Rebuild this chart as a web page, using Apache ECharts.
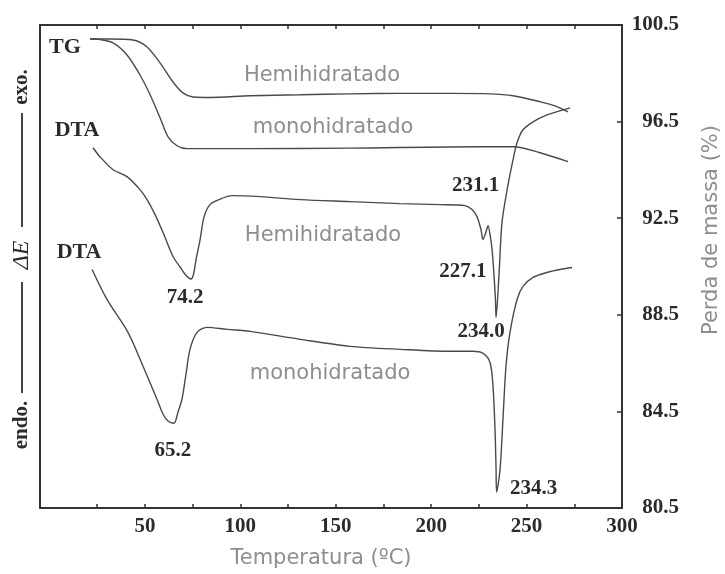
<!DOCTYPE html>
<html>
<head>
<meta charset="utf-8">
<script src="https://cdn.jsdelivr.net/npm/echarts@6/dist/echarts.min.js"></script>
<style>
  html, body { margin: 0; padding: 0; background: #fff; }
  #chart { width: 725px; height: 574px; }
</style>
</head>
<body>
<div id="chart"></div>
<script>
// ---- Data -------------------------------------------------------------
// Axis ticks: temperature (°C) and residual mass (%)
const tempTicks  = [25, 50, 75, 100, 125, 150, 175, 200, 225, 250, 275, 300];
const tempLabels = [50, 100, 150, 200, 250, 300];
const massTicks  = [80.5, 84.5, 88.5, 92.5, 96.5, 100.5];

// TG, hemihydrate: temperature (°C) / residual mass (%)
const tgHemiTemp = [21.2, 31.7, 43.7, 51.1, 57.9, 64.7, 69.9, 75.2, 84.1, 105.1, 131.3, 157.5, 183.7, 209.9, 230.8, 242.9, 257.1, 264.9, 271.7];
const tgHemiMass = [99.92, 99.92, 99.88, 99.59, 98.93, 98.14, 97.69, 97.52, 97.50, 97.57, 97.61, 97.65, 97.67, 97.67, 97.65, 97.57, 97.32, 97.15, 96.90];

// TG, monohydrate
const tgMonoTemp = [21.2, 26.4, 33.3, 40.6, 47.4, 52.7, 57.9, 62.1, 66.8, 72.0, 105.1, 157.5, 225.6, 242.9, 257.1, 271.7];
const tgMonoMass = [99.92, 99.90, 99.76, 99.26, 98.43, 97.61, 96.66, 95.87, 95.50, 95.38, 95.38, 95.40, 95.46, 95.46, 95.21, 94.84];

// DTA, hemihydrate: temperature (°C) / ΔE signal (arbitrary units)
const dtaHemiTemp = [22.8, 26.4, 33.3, 40.6, 47.4, 51.1, 55.3, 59.5, 64.7, 68.4, 71.0, 72.8, 74.2, 75.5, 76.8, 78.9, 81.0, 84.1, 88.8, 95.6, 110.3, 131.3, 157.5, 183.7, 204.6, 217.7, 221.4, 224.0, 226.1, 227.1, 228.8, 229.8, 231.1, 231.9, 232.9, 233.7, 234.0, 235.6, 237.1, 239.8, 242.9, 245.0, 248.1, 253.4, 260.7, 269.1, 272.8];
const dtaHemiSignal = [74.59, 72.73, 70.04, 68.60, 65.91, 63.84, 60.74, 57.02, 52.07, 49.90, 48.40, 47.70, 47.40, 48.50, 51.50, 55.58, 60.33, 62.81, 63.84, 64.67, 64.46, 63.84, 63.43, 63.02, 62.81, 62.60, 61.78, 60.33, 57.64, 55.58, 57.23, 58.47, 56.00, 53.51, 48.35, 43.00, 39.46, 48.76, 59.09, 65.91, 72.11, 75.62, 78.31, 79.96, 81.40, 82.44, 82.85];

// DTA, monohydrate
const dtaMonoTemp = [22.3, 30.1, 41.1, 49.0, 56.3, 59.5, 62.1, 65.2, 67.3, 69.4, 71.5, 73.6, 77.3, 82.5, 93.0, 105.1, 131.3, 157.5, 183.7, 209.9, 221.9, 227.2, 230.8, 232.4, 233.5, 234.0, 234.3, 236.1, 237.7, 239.2, 241.3, 245.0, 248.1, 253.4, 260.7, 267.5, 273.8];
const dtaMonoSignal = [49.38, 43.18, 36.36, 29.34, 22.52, 19.42, 18.00, 17.56, 19.83, 22.52, 27.69, 32.85, 36.36, 37.40, 36.98, 36.57, 34.92, 33.47, 32.85, 32.44, 32.44, 32.02, 30.17, 25.21, 15.70, 8.06, 3.31, 8.06, 19.01, 29.34, 36.36, 43.18, 45.87, 47.73, 48.76, 49.38, 49.79];

// Peak temperatures (°C) of the DTA events
const dtaHemiPeaks = [74.2, 227.1, 231.1, 234.0];
const dtaMonoPeaks = [65.2, 234.3];

// ---- Style ------------------------------------------------------------
const SERIF = '"Liberation Serif", "DejaVu Serif", serif';
const SANS  = '"DejaVu Sans", Verdana, sans-serif';
const INK   = '#2b2b2b';
const GREY  = '#8e8e8e';
const LINE  = '#4a4a4a';

// where each peak temperature sits relative to its peak (px)
const peakOffsets = {
  '74.2': [-6, 19], '227.1': [-20, 32], '231.1': [-15, -52], '234.0': [-15, 14],
  '65.2': [-1, 27], '234.3': [37, -3]
};

function pairs(xs, ys) { return xs.map((x, i) => [x, ys[i]]); }
function valueAt(xs, ys, t) {
  for (let i = 1; i < xs.length; i++) {
    if (t <= xs[i]) {
      const f = (t - xs[i - 1]) / (xs[i] - xs[i - 1]);
      return ys[i - 1] + f * (ys[i] - ys[i - 1]);
    }
  }
  return ys[ys.length - 1];
}
function note(coord, text, offset, style) {
  return {
    coord: coord, symbol: 'circle', symbolSize: 1,
    itemStyle: { color: 'rgba(0,0,0,0)' },
    label: Object.assign({ show: true, position: 'inside', formatter: text, offset: offset }, style)
  };
}
const numStyle  = { fontFamily: SERIF, fontSize: 21, fontWeight: 'bold', color: INK };
const nameStyle = { fontFamily: SERIF, fontSize: 22, fontWeight: 'bold', color: INK };
const greyStyle = { fontFamily: SANS, fontSize: 21, color: GREY };

function peakNotes(xs, ys, peaks) {
  return peaks.map(p => note([p, valueAt(xs, ys, p)], p.toFixed(1), peakOffsets[p.toFixed(1)], numStyle));
}

const lineSeries = (name, xs, ys, yIdx, marks) => ({
  name: name, type: 'line', xAxisIndex: 0, yAxisIndex: yIdx,
  data: pairs(xs, ys), showSymbol: false, smooth: 0.3,
  lineStyle: { color: LINE, width: 1.4 }, silent: true, animation: false,
  markPoint: { silent: true, animation: false, data: marks }
});

const axisLineStyle = { color: '#333', width: 2 };
const tickStyle = { color: '#333', width: 1.5 };

const option = {
  animation: false,
  backgroundColor: '#fff',
  grid: { left: 40, right: 103, top: 25, bottom: 65 },
  xAxis: [
    {
      type: 'value', min: -5, max: 300, position: 'bottom',
      axisLine: { show: true, onZero: false, lineStyle: axisLineStyle },
      axisTick: { show: true, inside: true, length: 4, customValues: tempTicks, lineStyle: tickStyle },
      axisLabel: { customValues: tempLabels, fontFamily: SERIF, fontSize: 21, fontWeight: 'bold', color: INK, margin: 8 },
      splitLine: { show: false },
      name: 'Temperatura (ºC)', nameLocation: 'middle', nameGap: 40,
      nameTextStyle: { fontFamily: SANS, fontSize: 21, color: GREY, padding: [0, 20, 0, 0] }
    },
    {
      type: 'value', min: -5, max: 300, position: 'top',
      axisLine: { show: true, onZero: false, lineStyle: axisLineStyle },
      axisTick: { show: true, inside: true, length: 4, customValues: tempTicks, lineStyle: tickStyle },
      axisLabel: { show: false }, splitLine: { show: false }
    }
  ],
  yAxis: [
    {
      type: 'value', min: 80.5, max: 100.5, position: 'right',
      axisLine: { show: true, onZero: false, lineStyle: axisLineStyle },
      axisTick: { show: true, inside: true, length: 5, customValues: massTicks, lineStyle: tickStyle },
      axisLabel: { customValues: massTicks, formatter: v => v.toFixed(1), fontFamily: SERIF, fontSize: 21, fontWeight: 'bold', color: INK, align: 'right', margin: 57 },
      splitLine: { show: false }
    },
    {
      type: 'value', min: 0, max: 100, position: 'left',
      axisLine: { show: true, onZero: false, lineStyle: axisLineStyle },
      axisTick: { show: false }, axisLabel: { show: false }, splitLine: { show: false }
    }
  ],
  series: [
    lineSeries('TG Hemihidratado', tgHemiTemp, tgHemiMass, 0, [
      note([tgHemiTemp[0], tgHemiMass[0]], 'TG', [-25, 8], nameStyle),
      note([142.8, valueAt(tgHemiTemp, tgHemiMass, 142.8)], 'Hemihidratado', [0, -19], greyStyle)
    ]),
    lineSeries('TG monohidratado', tgMonoTemp, tgMonoMass, 0, [
      note([148.6, valueAt(tgMonoTemp, tgMonoMass, 148.6)], 'monohidratado', [0, -21], greyStyle)
    ]),
    lineSeries('DTA Hemihidratado', dtaHemiTemp, dtaHemiSignal, 1, [
      note([dtaHemiTemp[0], dtaHemiSignal[0]], 'DTA', [-16, -17], nameStyle),
      note([143.3, valueAt(dtaHemiTemp, dtaHemiSignal, 143.3)], 'Hemihidratado', [0, 35], greyStyle)
    ].concat(peakNotes(dtaHemiTemp, dtaHemiSignal, dtaHemiPeaks))),
    lineSeries('DTA monohidratado', dtaMonoTemp, dtaMonoSignal, 1, [
      note([dtaMonoTemp[0], dtaMonoSignal[0]], 'DTA', [-13, -17], nameStyle),
      note([147.0, valueAt(dtaMonoTemp, dtaMonoSignal, 147.0)], 'monohidratado', [0, 30], greyStyle)
    ].concat(peakNotes(dtaMonoTemp, dtaMonoSignal, dtaMonoPeaks)))
  ],
  graphic: [
    // ΔE direction marker on the left: endo. —— ΔE —— exo.
    { type: 'text', x: 22, y: 87, rotation: Math.PI / 2,
      style: { text: 'exo.', font: 'bold 21px ' + SERIF, fill: INK, align: 'center', verticalAlign: 'middle', textAlign: 'center', textVerticalAlign: 'middle' } },
    { type: 'line', shape: { x1: 22, y1: 113, x2: 22, y2: 227 }, style: { stroke: '#444', lineWidth: 2 } },
    { type: 'text', x: 22, y: 255, rotation: Math.PI / 2,
      style: { text: 'ΔE', font: 'italic 24px ' + SERIF, fill: INK, align: 'center', verticalAlign: 'middle', textAlign: 'center', textVerticalAlign: 'middle' } },
    { type: 'line', shape: { x1: 22, y1: 282, x2: 22, y2: 393 }, style: { stroke: '#444', lineWidth: 2 } },
    { type: 'text', x: 22, y: 425, rotation: Math.PI / 2,
      style: { text: 'endo.', font: 'bold 21px ' + SERIF, fill: INK, align: 'center', verticalAlign: 'middle', textAlign: 'center', textVerticalAlign: 'middle' } },
    // right-hand axis title
    { type: 'text', x: 712, y: 230, rotation: Math.PI / 2,
      style: { text: 'Perda de massa (%)', font: '21px ' + SANS, fill: GREY, align: 'center', verticalAlign: 'middle', textAlign: 'center', textVerticalAlign: 'middle' } }
  ]
};

const chart = echarts.init(document.getElementById('chart'));
chart.setOption(option);
</script>
</body>
</html>
